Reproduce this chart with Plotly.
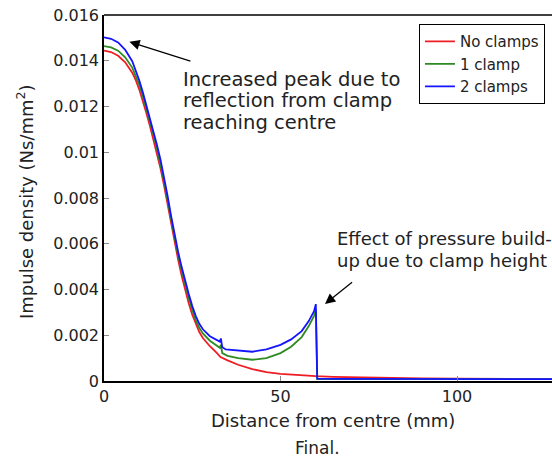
import plotly.graph_objects as go

# Impulse density profiles (Ns/mm^2) against distance from centre (mm)
x_none = [0, 2, 4, 6, 8, 9, 10, 11, 12, 13, 14, 15, 16, 17, 18, 19, 20, 21, 22, 23,
          24, 25, 26, 27, 28, 30, 32, 33, 35, 38, 42, 46, 50, 55, 60, 65, 70, 75, 80,
          90, 100, 110, 120, 127]
y_none = [0.01444, 0.01438, 0.01422, 0.01393, 0.01348, 0.01315, 0.01274, 0.01226,
          0.01172, 0.01116, 0.01058, 0.00996, 0.00930, 0.00855, 0.00772, 0.00688,
          0.00606, 0.00530, 0.00460, 0.00396, 0.00340, 0.00290, 0.00248, 0.00214,
          0.00188, 0.00152, 0.00122, 0.00105, 0.00090, 0.00071, 0.00052, 0.00039,
          0.00031, 0.00025, 0.00021, 0.00018, 0.00016, 0.00015, 0.00013, 0.00011,
          0.00010, 0.00009, 0.00008, 0.00008]

x_one = [0, 2, 4, 6, 8, 9, 10, 11, 12, 13, 14, 15, 16, 17, 18, 19, 20, 21, 22, 23,
         24, 25, 26, 27, 28, 30, 32, 32.8, 33.1, 33.5, 35, 38, 42, 46, 50, 53, 56, 58,
         59.5, 60.0, 60.4, 65, 80, 100, 127]
y_one = [0.01464, 0.01458, 0.01444, 0.01415, 0.01370, 0.01336, 0.01295, 0.01246,
         0.01192, 0.01136, 0.01078, 0.01016, 0.00950, 0.00874, 0.00790, 0.00706,
         0.00624, 0.00550, 0.00484, 0.00420, 0.00364, 0.00312, 0.00266, 0.00232,
         0.00208, 0.00176, 0.00154, 0.00145, 0.00158, 0.00122, 0.00110, 0.00100,
         0.00093, 0.00100, 0.00122, 0.00150, 0.00192, 0.00240, 0.00285, 0.00312,
         0.00008, 0.00008, 0.00008, 0.00008, 0.00008]

x_two = [0, 2, 4, 6, 8, 9, 10, 11, 12, 13, 14, 15, 16, 17, 18, 19, 20, 21, 22, 23,
         24, 25, 26, 27, 28, 30, 32, 32.8, 33.1, 33.5, 34.5, 38, 42, 46, 50, 53, 56,
         58, 59.5, 60.0, 60.4, 65, 80, 100, 127]
y_two = [0.01502, 0.01496, 0.01480, 0.01448, 0.01398, 0.01360, 0.01314, 0.01262,
         0.01206, 0.01150, 0.01092, 0.01032, 0.00968, 0.00894, 0.00810, 0.00722,
         0.00638, 0.00564, 0.00498, 0.00436, 0.00380, 0.00328, 0.00284, 0.00250,
         0.00226, 0.00196, 0.00177, 0.00172, 0.00186, 0.00148, 0.00138, 0.00133,
         0.00128, 0.00138, 0.00158, 0.00182, 0.00218, 0.00262, 0.00305, 0.00336,
         0.00010, 0.00009, 0.00008, 0.00008, 0.00008]

series_names = ["No clamps", "1 clamp", "2 clamps"]
series_colors = ["#ee1d23", "#2e8a22", "#1414ff"]

y_tickvals = [0, 0.002, 0.004, 0.006, 0.008, 0.010, 0.012, 0.014, 0.016]
y_ticktext = ["0", "0.002", "0.004", "0.006", "0.008", "0.01", "0.012", "0.014", "0.016"]
x_tickvals = [0, 50, 100]
x_ticktext = ["0", "50", "100"]

note_peak = ["Increased peak due to", "reflection from clamp", "reaching centre"]
note_buildup = ["Effect of pressure build-", "up due to clamp height"]

FONT = "DejaVu Sans, Verdana, sans-serif"
INK = "#222"

fig = go.Figure()
for xs, ys, name, color in zip([x_none, x_one, x_two], [y_none, y_one, y_two],
                               series_names, series_colors):
    fig.add_trace(go.Scatter(x=xs, y=ys, mode="lines", name=name,
                             line=dict(color=color, width=1.8)))

axis_common = dict(showline=True, linecolor="black", linewidth=1.5, ticks="inside",
                   ticklen=5, tickcolor="#8a8a8a", tickwidth=1, showgrid=False,
                   zeroline=False, tickfont=dict(family=FONT, size=16, color=INK))

fig.update_layout(
    width=552, height=461,
    margin=dict(l=104, r=0, t=15, b=80),
    paper_bgcolor="white", plot_bgcolor="white",
    font=dict(family=FONT, color=INK),
    xaxis=dict(range=[0, 126.9], tickvals=x_tickvals, ticktext=x_ticktext, **axis_common),
    yaxis=dict(range=[0, 0.016], tickvals=y_tickvals, ticktext=y_ticktext, **axis_common),
    legend=dict(x=0.703, y=0.975, xanchor="left", yanchor="top",
                bgcolor="white", bordercolor="black", borderwidth=1,
                font=dict(family=FONT, size=15, color=INK),
                itemwidth=30, tracegroupgap=0),
    showlegend=True,
)

# top frame line (the right edge lies beyond the visible area)
fig.add_shape(type="line", xref="paper", yref="paper", x0=0, x1=1, y0=1, y1=1,
              line=dict(color="black", width=1.5))

PLOT_L, PLOT_W, PLOT_B, PLOT_H = 104, 448, 381, 366


def px(xp):
    return (xp - PLOT_L) / PLOT_W


def py(yp):
    return (PLOT_B - yp) / PLOT_H


def label(text, x, y, size, xanchor="center", angle=0):
    fig.add_annotation(text=text, xref="paper", yref="paper", x=px(x), y=py(y),
                       xanchor=xanchor, yanchor="middle", textangle=angle,
                       showarrow=False, font=dict(family=FONT, size=size, color=INK))


label("Distance from centre (mm)", 333, 420, 18)
label("Impulse density (Ns/mm<sup>2</sup>)", 25, 202, 18, angle=-90)
label("Final.", 317, 448, 17)

for i, line in enumerate(note_peak):
    label(line, 181, 79 + 21.5 * i, 19.5, xanchor="left")
for i, line in enumerate(note_buildup):
    label(line, 335, 238 + 22 * i, 18, xanchor="left")

# arrows pointing at the features described above
arrow_style = dict(showarrow=True, arrowhead=2, arrowsize=1.7, arrowwidth=1.2,
                   arrowcolor="black", axref="x", ayref="y", text="")
fig.add_annotation(x=7.2, y=0.01483, ax=24.9, ay=0.01396, **arrow_style)
fig.add_annotation(x=62.6, y=0.00337, ax=70.7, ay=0.00437, **arrow_style)

fig.write_html("out.html")
